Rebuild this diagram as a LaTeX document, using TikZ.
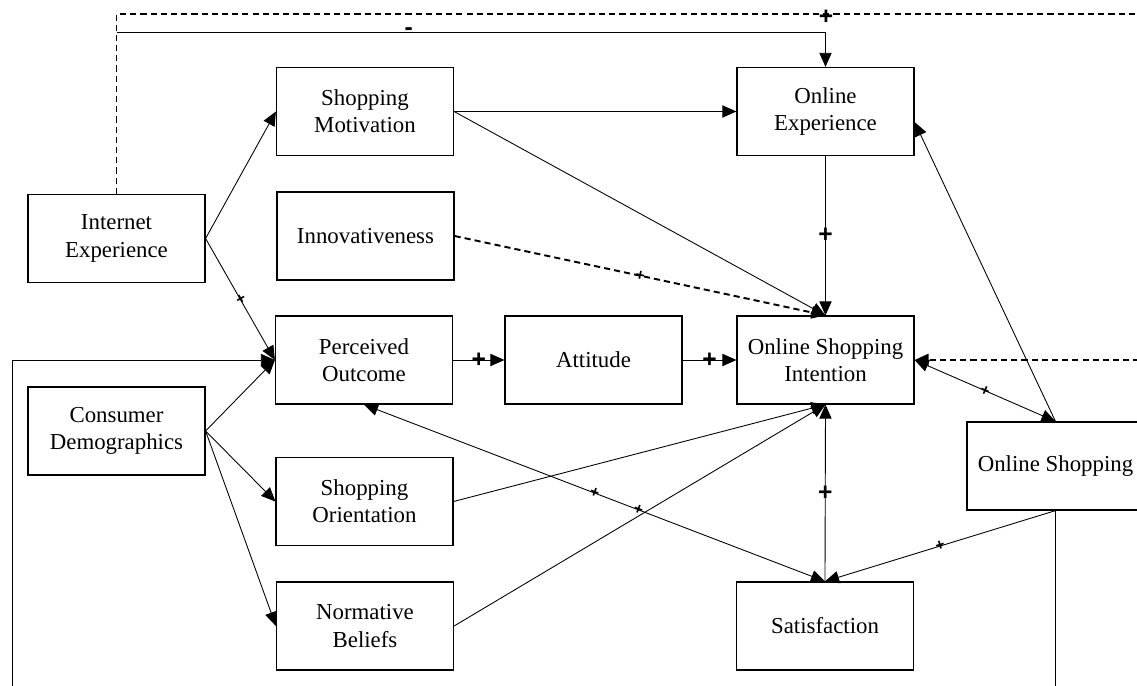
\documentclass[tikz,border=0pt]{standalone}
\usepackage{fontspec}
\setmainfont{Liberation Serif}
\newfontfamily\signfont{Liberation Sans}
\usetikzlibrary{arrows.meta}
\tikzset{
  box/.style={draw, line width=0.7pt, minimum width=3.54cm, minimum height=1.76cm,
    align=center, font=\fontsize{13}{15.5}\selectfont},
  arr/.style={-{Triangle[length=8pt,width=7pt]}, line width=0.5pt},
  barr/.style={{Triangle[length=8pt,width=7pt]}-{Triangle[length=8pt,width=7pt]}, line width=0.5pt},
  dline/.style={line width=1.1pt, dash pattern=on 3.5pt off 2.3pt},
  sgn/.style={font=\fontsize{9}{9}\signfont\bfseries, inner sep=0pt, sloped},
  bsgn/.style={font=\fontsize{14}{14}\signfont\bfseries, inner sep=0pt}
}

\begin{document}
\begin{tikzpicture}[x=0.02cm, y=-0.02cm]
\useasboundingbox (0,0) rectangle (1137,686);
\clip (0,0) rectangle (1137,686);
% constructs
\node[box] (IE) at (116.5,238.5) {Internet\\Experience};
\node[box] (CD) at (116.5,431) {Consumer\\Demographics};
\node[box] (SM) at (365,111.5) {Shopping\\Motivation};
\node[box] (Innov) at (365.5,236) {Innovativeness};
\node[box] (PO) at (364,360) {Perceived\\Outcome};
\node[box] (SO) at (364.5,501.5) {Shopping\\Orientation};
\node[box] (NB) at (365,626) {Normative\\Beliefs};
\node[box] (AT) at (593.5,360) {Attitude};
\node[box] (OE) at (825.5,111.5) {Online\\Experience};
\node[box] (OSI) at (825.5,360) {Online Shopping\\Intention};
\node[box] (Sat) at (825,626) {Satisfaction};
\node[box] (OS) at (1055.5,466) {Online Shopping};
% ends outside the page
\coordinate (topS) at (116.5,32);
\coordinate (farTop) at (1160,14);
\coordinate (farMid) at (1160,360);
\coordinate (lowL) at (12,700);
\coordinate (lowR) at (1055.5,700);
% paths
\draw[dline] (IE.north) |- node[bsgn, pos=0.84, yshift=-2pt] {+} (farTop);
\draw[arr] (topS) -| node[bsgn, pos=0.206] {-} (OE.north);
\draw[arr] (IE.east) -- (SM.west);
\draw[arr] (IE.east) -- node[sgn] {+} (PO.west);
\draw[arr] (lowL) |- (PO.west);
\draw[arr] (CD.east) -- (PO.west);
\draw[arr] (CD.east) -- (SO.west);
\draw[arr] (CD.east) -- (NB.west);
\draw[arr] (SM.east) -- (OE.west);
\draw[arr] (SM.east) -- (OSI.north);
\draw[arr, dline] (Innov.east) -- node[sgn] {+} (OSI.north);
\draw[arr] (OE.south) -- node[bsgn] {+} (OSI.north);
\draw[arr] (PO.east) -- node[bsgn] {+} (AT.west);
\draw[arr] (AT.east) -- node[bsgn] {+} (OSI.west);
\draw[arr] (SO.east) -- (OSI.south);
\draw[arr] (NB.east) -- (OSI.south);
\draw[arr] (Sat.north) -- node[bsgn] {+} (OSI.south);
\draw[barr] (PO.south) -- node[sgn] {+} node[sgn, pos=0.595] {+} (Sat.north);
\draw[barr] (OSI.east) -- node[sgn] {+} (OS.north);
\draw[arr] (OS.north) -- ([yshift=-6pt]OE.east);
\draw[arr] (OS.south) -- node[sgn] {+} (Sat.north);
\draw (OS.south) -- (lowR);
\draw[arr, dline] (farMid) -- (OSI.east);
\end{tikzpicture}
\end{document}
